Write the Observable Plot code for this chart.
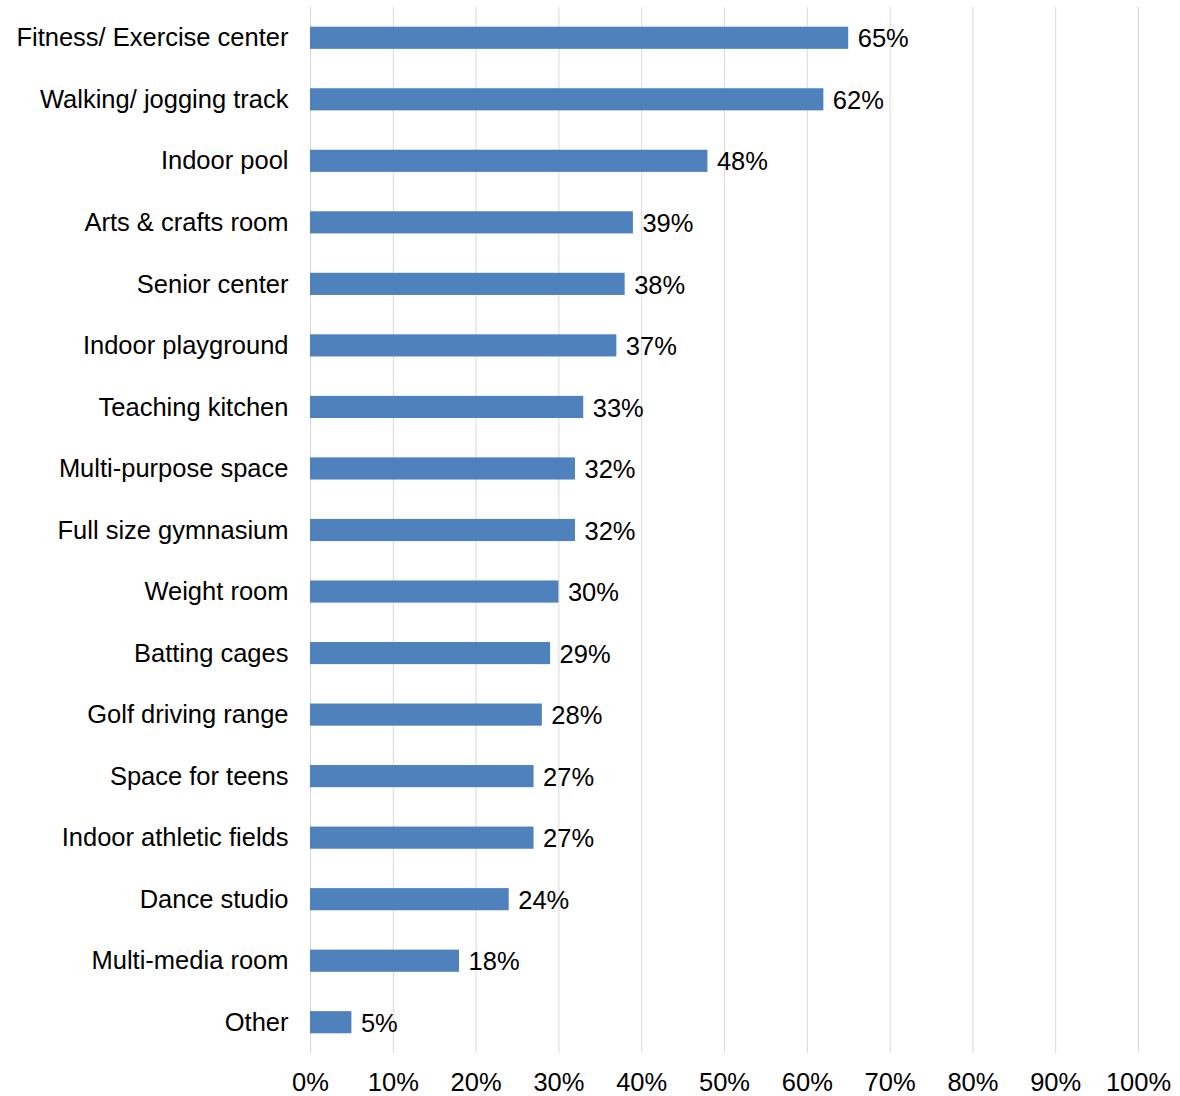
<!DOCTYPE html>
<html>
<head>
<meta charset="utf-8">
<script src="https://cdn.jsdelivr.net/npm/d3@7"></script>
<script src="https://cdn.jsdelivr.net/npm/@observablehq/plot@0.6"></script>
<style>
  html, body { margin: 0; padding: 0; background: #fff; }
  #chart svg { display: block; }
</style>
</head>
<body>
<div id="chart"></div>
<script>
const categories = [
  "Fitness/ Exercise center",
  "Walking/ jogging track",
  "Indoor pool",
  "Arts & crafts room",
  "Senior center",
  "Indoor playground",
  "Teaching kitchen",
  "Multi-purpose space",
  "Full size gymnasium",
  "Weight room",
  "Batting cages",
  "Golf driving range",
  "Space for teens",
  "Indoor athletic fields",
  "Dance studio",
  "Multi-media room",
  "Other"
];
const values = [65, 62, 48, 39, 38, 37, 33, 32, 32, 30, 29, 28, 27, 27, 24, 18, 5];
const xTicks = [0, 10, 20, 30, 40, 50, 60, 70, 80, 90, 100];

const data = categories.map((c, i) => ({category: c, value: values[i]}));
const FS = 25.5;

const chart = Plot.plot({
  width: 1180,
  height: 1096,
  marginLeft: 310,
  marginRight: 42,
  marginTop: 7,
  marginBottom: 43,
  style: {fontFamily: "'Liberation Sans', Arial, sans-serif", fontSize: FS + "px", color: "#000", background: "#fff"},
  x: {domain: [0, 100], ticks: xTicks, tickFormat: d => d + "%", label: null},
  y: {domain: categories, paddingInner: 0.64, paddingOuter: 0.32, round: false, label: null},
  marks: [
    Plot.gridX(xTicks, {stroke: "#d9d9d9", strokeOpacity: 1, strokeWidth: 1}),
    Plot.barX(data, {x: "value", y: "category", fill: "#4f81bd"}),
    Plot.text(data, {x: "value", y: "category", text: d => d.value + "%", textAnchor: "start", dx: 9, dy: 1, fill: "#000", fontSize: FS}),
    Plot.axisX({ticks: xTicks, tickFormat: d => d + "%", tickSize: 0, tickPadding: 19, fontSize: FS, label: null}),
    Plot.axisY({tickSize: 0, tickPadding: 22, fontSize: FS, label: null})
  ]
});
document.getElementById("chart").appendChild(chart);
</script>
</body>
</html>
